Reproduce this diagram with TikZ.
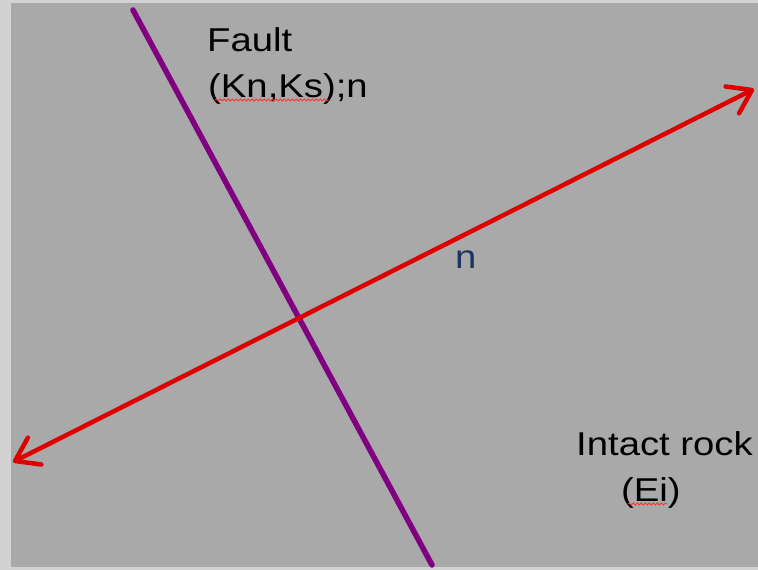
\documentclass[tikz,border=0pt]{standalone}
\usepackage{fontspec}
\setmainfont{Liberation Sans}[FakeStretch=1.16]
\usetikzlibrary{arrows.meta,decorations.pathmorphing}
\definecolor{bggray}{HTML}{A9A9A9}
\definecolor{edgegray}{HTML}{D2D2D2}
\definecolor{faultpurple}{HTML}{800080}
\definecolor{normalred}{HTML}{DD0000}
\definecolor{nblue}{HTML}{1F3560}
\tikzset{
  lbl/.style={anchor=base west, inner sep=0pt, font=\fontsize{33}{38}\selectfont, text=black},
  spell/.style={draw=red!80, line width=0.9pt, decorate, decoration={snake, segment length=4pt, amplitude=1pt}},
  barb/.tip={Straight Barb[length=22pt,width=30pt,line cap=round,line join=round]},
}
\begin{document}
\begin{tikzpicture}[x=1pt,y=-1pt]
\useasboundingbox (0,0) rectangle (758,570);
\fill[edgegray] (0,0) rectangle (758,570);
\fill[bggray] (11,3) rectangle (758,567);
% fault line
\coordinate (ftop) at (133,10);
\coordinate (fbot) at (432,565);
\draw[faultpurple, line width=5.5pt, line cap=round] (ftop) -- (fbot);
% normal vector
\coordinate (nleft) at (13,462);
\coordinate (nright) at (754,89);
\draw[normalred, line width=4.5pt, line cap=round, barb-barb] (nleft) -- (nright);
% labels
\node[lbl] (fault) at (207,51) {Fault};
\node[lbl] (kn) at (208,97) {(Kn,Ks);n};
\node[lbl, text=nblue] (n) at (455,268) {n};
\node[lbl] (intact) at (576,455) {Intact rock};
\node[lbl] (ei) at (621,501) {(Ei)};
\coordinate (w1a) at (215,100);
\coordinate (w1b) at (329,100);
\coordinate (w2a) at (628,504);
\coordinate (w2b) at (668,504);
\draw[spell] (w1a) -- (w1b);
\draw[spell] (w2a) -- (w2b);
\end{tikzpicture}
\end{document}
